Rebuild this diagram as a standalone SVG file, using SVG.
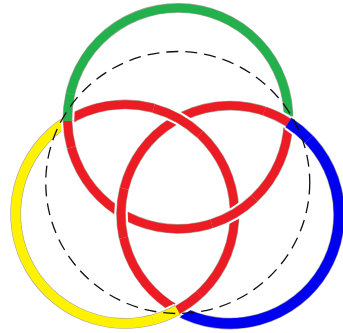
<svg xmlns="http://www.w3.org/2000/svg" xmlns:xlink="http://www.w3.org/1999/xlink" width="343" height="333" viewBox="0 0 343 333">
<style>
.e{fill:none;stroke:#5b4a3a;stroke-opacity:.5}
.h{fill:none;stroke:#fff}
.c{fill:none}
.g{stroke:#22b14c;stroke-width:8.5}
.y{stroke:#fff200;stroke-width:9.5}
.b{stroke:#0000f0;stroke-width:10.5}
.r{stroke:#ed1c24;stroke-width:8.5}
.ge{stroke-width:9.7}
.ye{stroke-width:10.7}
.be{stroke-width:11.7}
.re{stroke-width:9.7}
.hr{stroke-width:13.5}
.hb{stroke-width:15.5}
.hg{stroke-width:13.5}
.hy{stroke-width:14.5}
.dash{fill:none;stroke:#111;stroke-width:1.3;stroke-dasharray:12 7}
</style>
<defs>
<path id="gc" d="M67.53 120.80A110.5 110.5 0 1 1 288.43 122.48"/>
<path id="gr" d="M288.43 122.48A110.5 110.5 0 0 1 67.53 120.80"/>
<path id="yc" d="M177.56 310.06A109.5 109.5 0 0 1 67.53 120.80"/>
<path id="yr" d="M67.53 120.80A109.5 109.5 0 1 1 177.56 310.06"/>
<path id="bc" d="M288.43 122.48A109 109 0 0 1 177.56 310.06"/>
<path id="br" d="M177.56 310.06A109 109 0 1 1 288.43 122.48"/>
<path id="o1r" d="M71.37 147.47A110.5 110.5 0 0 1 67.53 120.80"/>
<path id="o1c" d="M67.53 120.80A110.5 110.5 0 0 1 70.25 94.02"/>
<path id="o2" d="M254.41 198.32A110.5 110.5 0 0 1 211.69 223.74"/>
<path id="o3r" d="M264.43 111.08A109 109 0 0 1 288.43 122.48"/>
<path id="o3c" d="M288.43 122.48A109 109 0 0 1 308.92 139.32"/>
<path id="o4" d="M123.50 237.72A109 109 0 0 1 124.10 188.69"/>
<path id="o5" d="M153.76 108.35A109.5 109.5 0 0 1 199.99 134.21"/>
<path id="o6r" d="M199.25 294.48A109.5 109.5 0 0 1 177.56 310.06"/>
<path id="o6c" d="M177.56 310.06A109.5 109.5 0 0 1 152.77 319.92"/>
</defs>
<rect width="343" height="333" fill="#fff"/>
<g id="green-ring">
<use xlink:href="#gc" href="#gc" class="e ge"/><use xlink:href="#gr" href="#gr" class="e re"/>
<use xlink:href="#gc" href="#gc" class="c g"/><use xlink:href="#gr" href="#gr" class="c r"/>
</g>
<g id="yellow-ring">
<use xlink:href="#yc" href="#yc" class="e ye"/><use xlink:href="#yr" href="#yr" class="e re"/>
<use xlink:href="#yc" href="#yc" class="c y"/><use xlink:href="#yr" href="#yr" class="c r"/>
</g>
<g id="blue-ring">
<use xlink:href="#bc" href="#bc" class="e be"/><use xlink:href="#br" href="#br" class="e re"/>
<use xlink:href="#bc" href="#bc" class="c b"/><use xlink:href="#br" href="#br" class="c r"/>
</g>
<g id="crossings">
<g id="green-over-yellow-left">
<use xlink:href="#o1r" href="#o1r" class="h hr"/><use xlink:href="#o1c" href="#o1c" class="h hg"/>
<use xlink:href="#o1r" href="#o1r" class="e re"/><use xlink:href="#o1c" href="#o1c" class="e ge"/>
<use xlink:href="#o1r" href="#o1r" class="c r"/><use xlink:href="#o1c" href="#o1c" class="c g"/>
</g>
<g id="green-over-yellow-inner">
<use xlink:href="#o2" href="#o2" class="h hr"/><use xlink:href="#o2" href="#o2" class="e re"/><use xlink:href="#o2" href="#o2" class="c r"/>
</g>
<g id="blue-over-green-right">
<use xlink:href="#o3r" href="#o3r" class="h hr"/><use xlink:href="#o3c" href="#o3c" class="h hb"/>
<use xlink:href="#o3r" href="#o3r" class="e re"/><use xlink:href="#o3c" href="#o3c" class="e be"/>
<use xlink:href="#o3r" href="#o3r" class="c r"/><use xlink:href="#o3c" href="#o3c" class="c b"/>
</g>
<g id="blue-over-green-inner">
<use xlink:href="#o4" href="#o4" class="h hr"/><use xlink:href="#o4" href="#o4" class="e re"/><use xlink:href="#o4" href="#o4" class="c r"/>
</g>
<g id="yellow-over-blue-inner">
<use xlink:href="#o5" href="#o5" class="h hr"/><use xlink:href="#o5" href="#o5" class="e re"/><use xlink:href="#o5" href="#o5" class="c r"/>
</g>
<g id="yellow-over-blue-bottom">
<use xlink:href="#o6r" href="#o6r" class="h hr"/><use xlink:href="#o6c" href="#o6c" class="h hy"/>
<use xlink:href="#o6r" href="#o6r" class="e re"/><use xlink:href="#o6c" href="#o6c" class="e ye"/>
<use xlink:href="#o6r" href="#o6r" class="c r"/><use xlink:href="#o6c" href="#o6c" class="c y"/>
</g>
</g>
<g id="guide-circle">
<ellipse cx="177.75" cy="182.5" rx="132" ry="131" class="dash"/>
</g>
</svg>
